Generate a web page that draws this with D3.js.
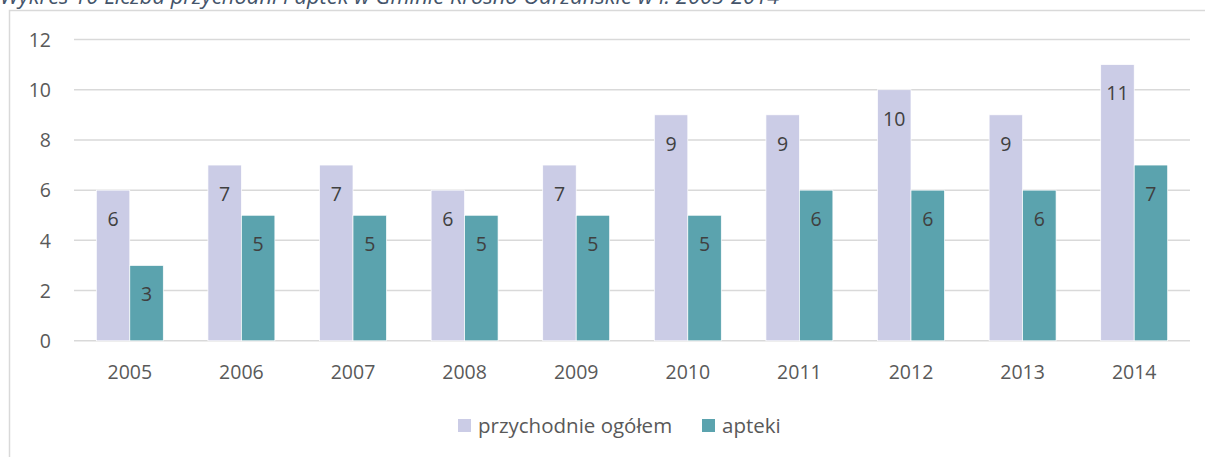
<!DOCTYPE html>
<html><head><meta charset="utf-8">
<script src="https://cdn.jsdelivr.net/npm/d3@7"></script>
<style>
body{margin:0;background:#fff;}
svg{display:block;font-family:"Open Sans",sans-serif;}
</style></head><body>
<svg id="c" width="1205" height="457"></svg>
<script>
const years = ["2005","2006","2007","2008","2009","2010","2011","2012","2013","2014"];
const przychodnie = [6,7,7,6,7,9,9,10,9,11];
const apteki = [3,5,5,5,5,5,6,6,6,7];
const seriesNames = ["przychodnie ogółem","apteki"];
const colors = ["#cbcce6","#5ba3ae"];
const yTicks = [0,2,4,6,8,10,12];
const title = "Wykres 10 Liczba przychodni i aptek w Gminie Krosno Odrzańskie w l. 2005-2014";

const svg = d3.select("#c");
svg.append("path").attr("d","M9.5,457 V10.5 H1205").attr("fill","none").attr("stroke","#d9d9d9").attr("stroke-width",1.5);
const tt = svg.append("text").attr("x",0).attr("y",4).attr("font-style","italic").attr("font-size",21).attr("fill","#44546a").text(title);
// fit title to reference width
const tw = tt.node().getComputedTextLength();
if (tw > 0) tt.attr("font-size", 21*780/tw);

const L=74,R=1190,T=39.5,B=340.8;
const x = d3.scaleBand().domain(years).range([L,R]).paddingInner(0.4).paddingOuter(0.2);
const y = d3.scaleLinear().domain([0,12]).range([B,T]);
const xs = d3.scaleBand().domain([0,1]).range([0,x.bandwidth()]);
const FS = 19.5;

svg.append("g").selectAll("line").data(yTicks).join("line")
  .attr("x1",L).attr("x2",R).attr("y1",d=>y(d)).attr("y2",d=>y(d))
  .attr("stroke","#d9d9d9").attr("stroke-width",1.5);

const ya = svg.append("g").attr("transform","translate(51,0)")
  .call(d3.axisLeft(y).tickValues(yTicks).tickSize(0).tickPadding(0));
ya.select(".domain").remove();
ya.selectAll("text").attr("font-size",FS).attr("fill","#595959").attr("font-family","Open Sans, sans-serif").attr("dy","0.35em");

const xa = svg.append("g").attr("transform",`translate(0,${B+31})`)
  .call(d3.axisBottom(x).tickSize(0).tickPadding(0));
xa.select(".domain").remove();
xa.selectAll("text").attr("font-size",FS).attr("fill","#595959").attr("font-family","Open Sans, sans-serif").attr("dy","0.35em");

const data = years.map((yr,i)=>({yr, vals:[przychodnie[i],apteki[i]]}));
const g = svg.selectAll("g.grp").data(data).join("g").attr("class","grp")
  .attr("transform",d=>`translate(${x(d.yr)},0)`);
g.selectAll("rect").data(d=>d.vals.map((v,k)=>({v,k}))).join("rect")
  .attr("x",d=>xs(d.k)).attr("width",xs.bandwidth())
  .attr("y",d=>y(d.v)).attr("height",d=>B-y(d.v))
  .attr("fill",d=>colors[d.k]).attr("stroke","#ffffff").attr("stroke-width",0.7);
g.selectAll("text").data(d=>d.vals.map((v,k)=>({v,k}))).join("text")
  .attr("x",d=>xs(d.k)+xs.bandwidth()/2).attr("y",d=>y(d.v)+29)
  .attr("text-anchor","middle").attr("dy","0.35em")
  .attr("font-size",FS).attr("fill","#404040").text(d=>d.v);

const leg = svg.append("g");
const items = [{x:458,name:seriesNames[0],c:colors[0]},{x:702,name:seriesNames[1],c:colors[1]}];
items.forEach(it=>{
  leg.append("rect").attr("x",it.x).attr("y",419).attr("width",13).attr("height",13).attr("fill",it.c);
  leg.append("text").attr("x",it.x+20).attr("y",425.5).attr("dy","0.35em").attr("font-size",20.5).attr("fill","#595959").text(it.name);
});
</script>
</body></html>
